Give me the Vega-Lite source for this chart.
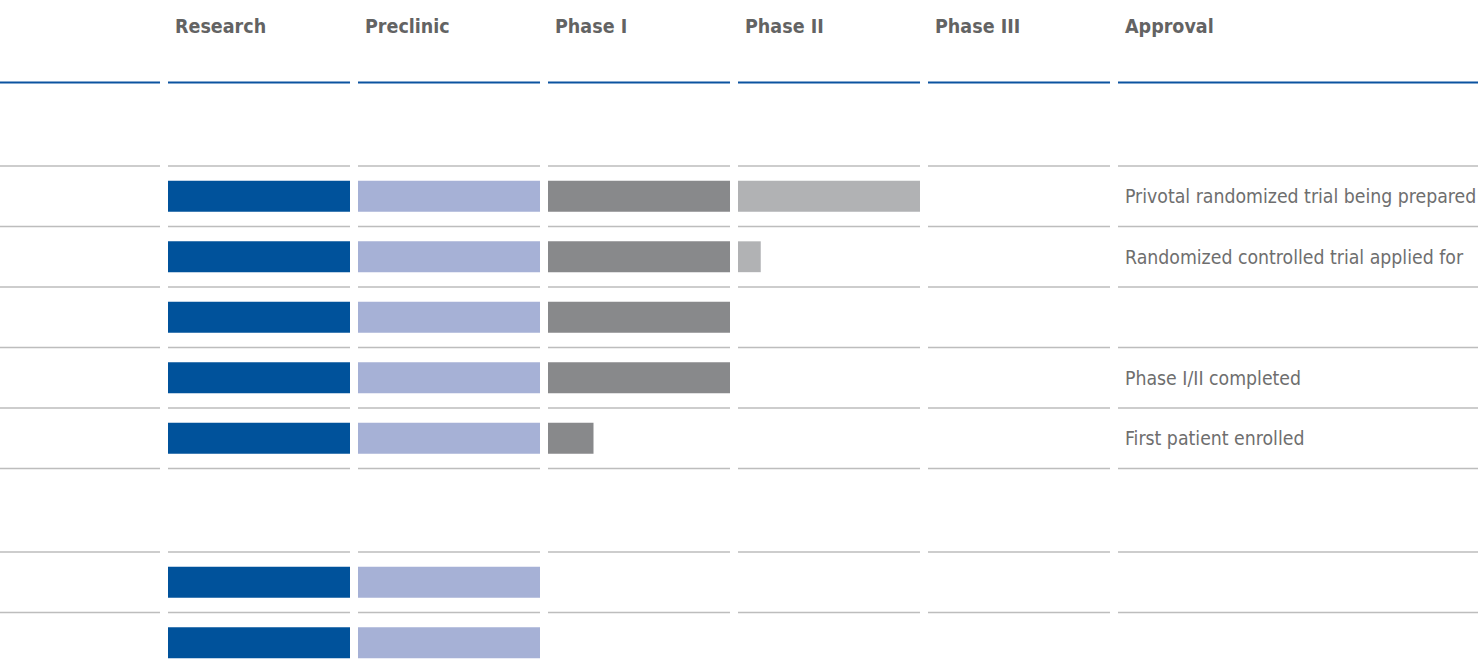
{
  "$schema": "https://vega.github.io/schema/vega-lite/v6.json",
  "usermeta": {"embedOptions": {"actions": false}},
  "background": "white",
  "padding": {"left": -1, "top": 0, "right": 0, "bottom": 0},
  "config": {
    "view": {"stroke": null},
    "font": "'Noto Sans Condensed', 'DejaVu Sans Condensed', 'Liberation Sans Narrow', Roboto, sans-serif",
    "text": {"font": "'Noto Sans Condensed', 'DejaVu Sans Condensed', 'Liberation Sans Narrow', Roboto, sans-serif"},
    "rule": {"color": "#bdbdbd", "strokeWidth": 1.5}
  },
  "datasets": {
    "trials": [
      {"section": "head", "row": "hdr", "Research": 0, "Preclinic": 0, "Phase I": 0, "Phase II": 0, "Phase III": 0, "note": ""},
      {"section": "A", "row": "t1", "Research": 1, "Preclinic": 1, "Phase I": 1, "Phase II": 1, "Phase III": 0, "note": "Privotal randomized trial being prepared"},
      {"section": "A", "row": "t2", "Research": 1, "Preclinic": 1, "Phase I": 1, "Phase II": 0.125, "Phase III": 0, "note": "Randomized controlled trial applied for"},
      {"section": "A", "row": "t3", "Research": 1, "Preclinic": 1, "Phase I": 1, "Phase II": 0, "Phase III": 0, "note": ""},
      {"section": "A", "row": "t4", "Research": 1, "Preclinic": 1, "Phase I": 1, "Phase II": 0, "Phase III": 0, "note": "Phase I/II completed"},
      {"section": "A", "row": "t5", "Research": 1, "Preclinic": 1, "Phase I": 0.25, "Phase II": 0, "Phase III": 0, "note": "First patient enrolled"},
      {"section": "B", "row": "t6", "Research": 1, "Preclinic": 1, "Phase I": 0, "Phase II": 0, "Phase III": 0, "note": ""},
      {"section": "B", "row": "t7", "Research": 1, "Preclinic": 1, "Phase I": 0, "Phase II": 0, "Phase III": 0, "note": ""}
    ]
  },
  "data": {"name": "trials"},
  "spacing": 81,
  "resolve": {"scale": {"x": "independent", "y": "independent"}},
  "vconcat": [
    {
      "spacing": 8,
      "bounds": "flush",
      "resolve": {"scale": {"x": "independent", "y": "independent"}},
      "transform": [{"filter": "datum.section === 'head'"}],
      "hconcat": [
        {"width": 160, "height": 82.5,
         "layer": [
           {"mark": {"type": "rule", "color": "#0b53a0", "strokeWidth": 2}, "encoding": {"y": {"value": "height"}}}
         ]},
        {"width": 182, "height": 82.5,
         "layer": [
           {"mark": {"type": "rule", "color": "#0b53a0", "strokeWidth": 2}, "encoding": {"y": {"value": "height"}}},
           {"mark": {"type": "text", "align": "left", "baseline": "alphabetic", "dx": 7, "dy": 32.5, "fontSize": 19.5, "fontWeight": "bold", "color": "#636363"},
            "encoding": {"x": {"value": 0}, "y": {"value": 0}, "text": {"value": "Research"}}}
         ]},
        {"width": 182, "height": 82.5,
         "layer": [
           {"mark": {"type": "rule", "color": "#0b53a0", "strokeWidth": 2}, "encoding": {"y": {"value": "height"}}},
           {"mark": {"type": "text", "align": "left", "baseline": "alphabetic", "dx": 7, "dy": 32.5, "fontSize": 19.5, "fontWeight": "bold", "color": "#636363"},
            "encoding": {"x": {"value": 0}, "y": {"value": 0}, "text": {"value": "Preclinic"}}}
         ]},
        {"width": 182, "height": 82.5,
         "layer": [
           {"mark": {"type": "rule", "color": "#0b53a0", "strokeWidth": 2}, "encoding": {"y": {"value": "height"}}},
           {"mark": {"type": "text", "align": "left", "baseline": "alphabetic", "dx": 7, "dy": 32.5, "fontSize": 19.5, "fontWeight": "bold", "color": "#636363"},
            "encoding": {"x": {"value": 0}, "y": {"value": 0}, "text": {"value": "Phase I"}}}
         ]},
        {"width": 182, "height": 82.5,
         "layer": [
           {"mark": {"type": "rule", "color": "#0b53a0", "strokeWidth": 2}, "encoding": {"y": {"value": "height"}}},
           {"mark": {"type": "text", "align": "left", "baseline": "alphabetic", "dx": 7, "dy": 32.5, "fontSize": 19.5, "fontWeight": "bold", "color": "#636363"},
            "encoding": {"x": {"value": 0}, "y": {"value": 0}, "text": {"value": "Phase II"}}}
         ]},
        {"width": 182, "height": 82.5,
         "layer": [
           {"mark": {"type": "rule", "color": "#0b53a0", "strokeWidth": 2}, "encoding": {"y": {"value": "height"}}},
           {"mark": {"type": "text", "align": "left", "baseline": "alphabetic", "dx": 7, "dy": 32.5, "fontSize": 19.5, "fontWeight": "bold", "color": "#636363"},
            "encoding": {"x": {"value": 0}, "y": {"value": 0}, "text": {"value": "Phase III"}}}
         ]},
        {"width": 360, "height": 82.5,
         "layer": [
           {"mark": {"type": "rule", "color": "#0b53a0", "strokeWidth": 2}, "encoding": {"y": {"value": "height"}}},
           {"mark": {"type": "text", "align": "left", "baseline": "alphabetic", "dx": 7, "dy": 32.5, "fontSize": 19.5, "fontWeight": "bold", "color": "#636363"},
            "encoding": {"x": {"value": 0}, "y": {"value": 0}, "text": {"value": "Approval"}}}
         ]}
      ]
    },
    {
      "spacing": 8,
      "bounds": "flush",
      "resolve": {"scale": {"x": "independent", "y": "independent"}},
      "transform": [{"filter": "datum.section === 'A'"}],
      "hconcat": [
        {"width": 160, "height": 302.5,
         "layer": [
           {"mark": "rule", "encoding": {"y": {"field": "row", "type": "nominal", "bandPosition": 0, "scale": {"type": "band", "paddingInner": 0, "paddingOuter": 0}, "axis": null}}},
           {"transform": [{"aggregate": [{"op": "count", "as": "n"}]}], "mark": "rule", "encoding": {"y": {"value": "height"}}}
         ]},
        {"width": 182, "height": 302.5,
         "layer": [
           {"mark": "rule", "encoding": {"y": {"field": "row", "type": "nominal", "bandPosition": 0, "scale": {"type": "band", "paddingInner": 0, "paddingOuter": 0}, "axis": null}}},
           {"transform": [{"aggregate": [{"op": "count", "as": "n"}]}], "mark": "rule", "encoding": {"y": {"value": "height"}}},
           {"transform": [{"filter": "datum['Research'] > 0"}],
            "mark": {"type": "bar", "height": {"band": 0.51}, "color": "#00529b"},
            "encoding": {"y": {"field": "row", "type": "nominal"}, "x": {"field": "Research", "type": "quantitative", "scale": {"domain": [0, 1], "nice": false}, "axis": null}}}
         ]},
        {"width": 182, "height": 302.5,
         "layer": [
           {"mark": "rule", "encoding": {"y": {"field": "row", "type": "nominal", "bandPosition": 0, "scale": {"type": "band", "paddingInner": 0, "paddingOuter": 0}, "axis": null}}},
           {"transform": [{"aggregate": [{"op": "count", "as": "n"}]}], "mark": "rule", "encoding": {"y": {"value": "height"}}},
           {"transform": [{"filter": "datum['Preclinic'] > 0"}],
            "mark": {"type": "bar", "height": {"band": 0.51}, "color": "#a6b1d6"},
            "encoding": {"y": {"field": "row", "type": "nominal"}, "x": {"field": "Preclinic", "type": "quantitative", "scale": {"domain": [0, 1], "nice": false}, "axis": null}}}
         ]},
        {"width": 182, "height": 302.5,
         "layer": [
           {"mark": "rule", "encoding": {"y": {"field": "row", "type": "nominal", "bandPosition": 0, "scale": {"type": "band", "paddingInner": 0, "paddingOuter": 0}, "axis": null}}},
           {"transform": [{"aggregate": [{"op": "count", "as": "n"}]}], "mark": "rule", "encoding": {"y": {"value": "height"}}},
           {"transform": [{"filter": "datum['Phase I'] > 0"}],
            "mark": {"type": "bar", "height": {"band": 0.51}, "color": "#88898b"},
            "encoding": {"y": {"field": "row", "type": "nominal"}, "x": {"field": "Phase I", "type": "quantitative", "scale": {"domain": [0, 1], "nice": false}, "axis": null}}}
         ]},
        {"width": 182, "height": 302.5,
         "layer": [
           {"mark": "rule", "encoding": {"y": {"field": "row", "type": "nominal", "bandPosition": 0, "scale": {"type": "band", "paddingInner": 0, "paddingOuter": 0}, "axis": null}}},
           {"transform": [{"aggregate": [{"op": "count", "as": "n"}]}], "mark": "rule", "encoding": {"y": {"value": "height"}}},
           {"transform": [{"filter": "datum['Phase II'] > 0"}],
            "mark": {"type": "bar", "height": {"band": 0.51}, "color": "#b1b2b4"},
            "encoding": {"y": {"field": "row", "type": "nominal"}, "x": {"field": "Phase II", "type": "quantitative", "scale": {"domain": [0, 1], "nice": false}, "axis": null}}}
         ]},
        {"width": 182, "height": 302.5,
         "layer": [
           {"mark": "rule", "encoding": {"y": {"field": "row", "type": "nominal", "bandPosition": 0, "scale": {"type": "band", "paddingInner": 0, "paddingOuter": 0}, "axis": null}}},
           {"transform": [{"aggregate": [{"op": "count", "as": "n"}]}], "mark": "rule", "encoding": {"y": {"value": "height"}}},
           {"transform": [{"filter": "datum['Phase III'] > 0"}],
            "mark": {"type": "bar", "height": {"band": 0.51}, "color": "#c8c8c8"},
            "encoding": {"y": {"field": "row", "type": "nominal"}, "x": {"field": "Phase III", "type": "quantitative", "scale": {"domain": [0, 1], "nice": false}, "axis": null}}}
         ]},
        {"width": 360, "height": 302.5,
         "layer": [
           {"mark": "rule", "encoding": {"y": {"field": "row", "type": "nominal", "bandPosition": 0, "scale": {"type": "band", "paddingInner": 0, "paddingOuter": 0}, "axis": null}}},
           {"transform": [{"aggregate": [{"op": "count", "as": "n"}]}], "mark": "rule", "encoding": {"y": {"value": "height"}}},
           {"transform": [{"filter": "datum.note"}],
            "mark": {"type": "text", "align": "left", "baseline": "middle", "dx": 7, "dy": 1, "fontSize": 19.3, "color": "#6e6e6e"},
            "encoding": {"x": {"value": 0}, "y": {"field": "row", "type": "nominal", "bandPosition": 0.5}, "text": {"field": "note"}}}
         ]}
      ]
    },
    {
      "spacing": 8,
      "bounds": "flush",
      "resolve": {"scale": {"x": "independent", "y": "independent"}},
      "transform": [{"filter": "datum.section === 'B'"}],
      "hconcat": [
        {"width": 160, "height": 121,
         "layer": [
           {"mark": "rule", "encoding": {"y": {"field": "row", "type": "nominal", "bandPosition": 0, "scale": {"type": "band", "paddingInner": 0, "paddingOuter": 0}, "axis": null}}},
           {"transform": [{"aggregate": [{"op": "count", "as": "n"}]}], "mark": "rule", "encoding": {"y": {"value": "height"}}}
         ]},
        {"width": 182, "height": 121,
         "layer": [
           {"mark": "rule", "encoding": {"y": {"field": "row", "type": "nominal", "bandPosition": 0, "scale": {"type": "band", "paddingInner": 0, "paddingOuter": 0}, "axis": null}}},
           {"transform": [{"aggregate": [{"op": "count", "as": "n"}]}], "mark": "rule", "encoding": {"y": {"value": "height"}}},
           {"transform": [{"filter": "datum['Research'] > 0"}],
            "mark": {"type": "bar", "height": {"band": 0.51}, "color": "#00529b"},
            "encoding": {"y": {"field": "row", "type": "nominal"}, "x": {"field": "Research", "type": "quantitative", "scale": {"domain": [0, 1], "nice": false}, "axis": null}}}
         ]},
        {"width": 182, "height": 121,
         "layer": [
           {"mark": "rule", "encoding": {"y": {"field": "row", "type": "nominal", "bandPosition": 0, "scale": {"type": "band", "paddingInner": 0, "paddingOuter": 0}, "axis": null}}},
           {"transform": [{"aggregate": [{"op": "count", "as": "n"}]}], "mark": "rule", "encoding": {"y": {"value": "height"}}},
           {"transform": [{"filter": "datum['Preclinic'] > 0"}],
            "mark": {"type": "bar", "height": {"band": 0.51}, "color": "#a6b1d6"},
            "encoding": {"y": {"field": "row", "type": "nominal"}, "x": {"field": "Preclinic", "type": "quantitative", "scale": {"domain": [0, 1], "nice": false}, "axis": null}}}
         ]},
        {"width": 182, "height": 121,
         "layer": [
           {"mark": "rule", "encoding": {"y": {"field": "row", "type": "nominal", "bandPosition": 0, "scale": {"type": "band", "paddingInner": 0, "paddingOuter": 0}, "axis": null}}},
           {"transform": [{"aggregate": [{"op": "count", "as": "n"}]}], "mark": "rule", "encoding": {"y": {"value": "height"}}},
           {"transform": [{"filter": "datum['Phase I'] > 0"}],
            "mark": {"type": "bar", "height": {"band": 0.51}, "color": "#88898b"},
            "encoding": {"y": {"field": "row", "type": "nominal"}, "x": {"field": "Phase I", "type": "quantitative", "scale": {"domain": [0, 1], "nice": false}, "axis": null}}}
         ]},
        {"width": 182, "height": 121,
         "layer": [
           {"mark": "rule", "encoding": {"y": {"field": "row", "type": "nominal", "bandPosition": 0, "scale": {"type": "band", "paddingInner": 0, "paddingOuter": 0}, "axis": null}}},
           {"transform": [{"aggregate": [{"op": "count", "as": "n"}]}], "mark": "rule", "encoding": {"y": {"value": "height"}}},
           {"transform": [{"filter": "datum['Phase II'] > 0"}],
            "mark": {"type": "bar", "height": {"band": 0.51}, "color": "#b1b2b4"},
            "encoding": {"y": {"field": "row", "type": "nominal"}, "x": {"field": "Phase II", "type": "quantitative", "scale": {"domain": [0, 1], "nice": false}, "axis": null}}}
         ]},
        {"width": 182, "height": 121,
         "layer": [
           {"mark": "rule", "encoding": {"y": {"field": "row", "type": "nominal", "bandPosition": 0, "scale": {"type": "band", "paddingInner": 0, "paddingOuter": 0}, "axis": null}}},
           {"transform": [{"aggregate": [{"op": "count", "as": "n"}]}], "mark": "rule", "encoding": {"y": {"value": "height"}}},
           {"transform": [{"filter": "datum['Phase III'] > 0"}],
            "mark": {"type": "bar", "height": {"band": 0.51}, "color": "#c8c8c8"},
            "encoding": {"y": {"field": "row", "type": "nominal"}, "x": {"field": "Phase III", "type": "quantitative", "scale": {"domain": [0, 1], "nice": false}, "axis": null}}}
         ]},
        {"width": 360, "height": 121,
         "layer": [
           {"mark": "rule", "encoding": {"y": {"field": "row", "type": "nominal", "bandPosition": 0, "scale": {"type": "band", "paddingInner": 0, "paddingOuter": 0}, "axis": null}}},
           {"transform": [{"aggregate": [{"op": "count", "as": "n"}]}], "mark": "rule", "encoding": {"y": {"value": "height"}}}
         ]}
      ]
    }
  ]
}
